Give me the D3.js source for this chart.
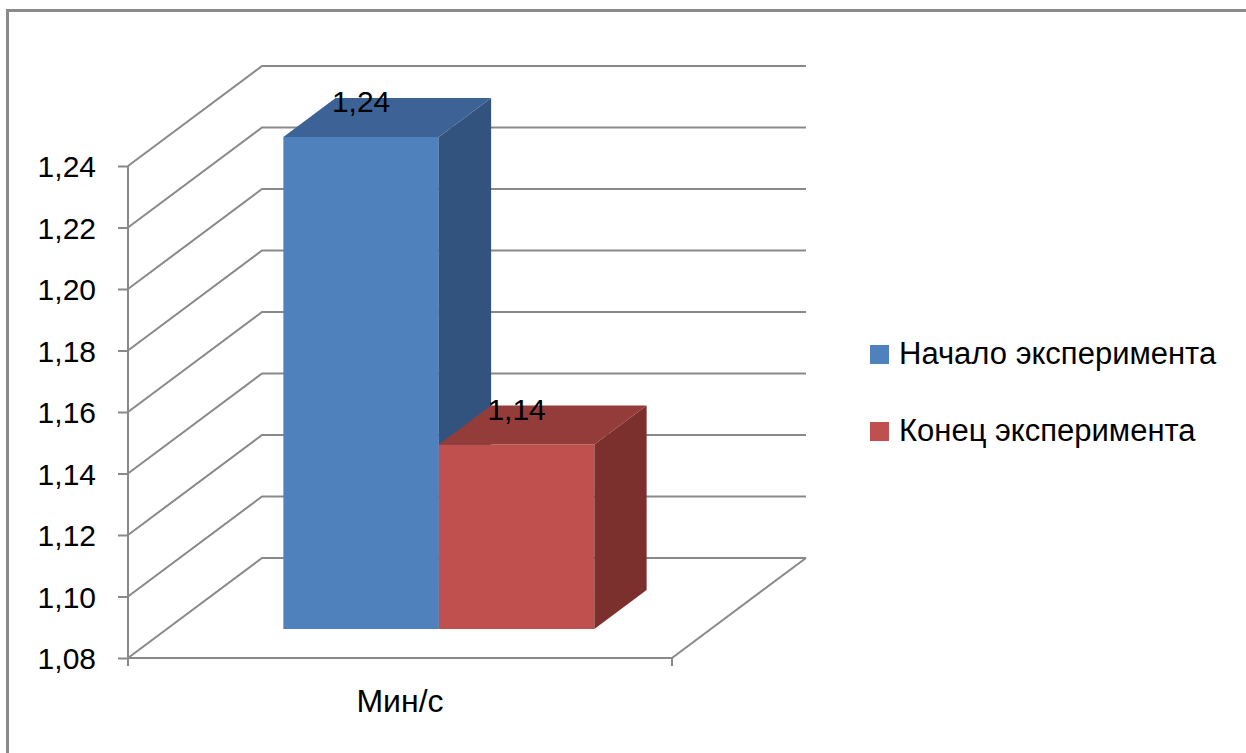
<!DOCTYPE html>
<html>
<head>
<meta charset="utf-8">
<script src="https://cdn.jsdelivr.net/npm/d3@7"></script>
<style>
  html, body { margin: 0; padding: 0; background: #fff; }
  svg { display: block; }
  text { font-family: "Liberation Sans", Arial, sans-serif; fill: #000; }
</style>
</head>
<body>
<svg id="chart" width="1246" height="753"></svg>
<script>
// Chart data
const categories = ['Мин/с'];
const seriesNames = ['Начало эксперимента', 'Конец эксперимента'];
const seriesValues = [1.24, 1.14];
const valueLabels = ['1,24', '1,14'];
const yTicks = [1.08, 1.10, 1.12, 1.14, 1.16, 1.18, 1.20, 1.22, 1.24];

// Face colours per series: front, top, side
const palette = [
  { front: '#4F81BD', top: '#3C6296', side: '#32537E' },
  { front: '#C0504D', top: '#943C3A', side: '#7C302E' }
];

const svg = d3.select('#chart');
const W = 1246, H = 753;
const FONT = 30;

// Oblique projection: depth d in [0,1] shifts right and up
const DX = 134, DY = 100;
const front = { left: 128, right: 672, bottom: 658, top: 166 };

const y = d3.scaleLinear().domain([yTicks[0], yTicks[yTicks.length - 1]]).range([front.bottom, front.top]);
const x = d3.scaleBand().domain(categories).range([front.left, front.right]).paddingInner(0).paddingOuter(0.3746);
const xs = d3.scaleBand().domain(seriesNames).range([0, x.bandwidth()]).padding(0);
const proj = (px, v, d) => [px + DX * d, y(v) - DY * d];

const fmt = v => d3.format('.2f')(v).replace('.', ',');
const gridColor = '#898989';

// Outer chart border
svg.append('rect')
  .attr('x', 7.5).attr('y', 10.5)
  .attr('width', W + 20).attr('height', H + 20)
  .attr('fill', 'none').attr('stroke', '#8a8a8a').attr('stroke-width', 3);

const grid = svg.append('g').attr('fill', 'none').attr('stroke', gridColor).attr('stroke-width', 2);

// Side wall diagonals and back wall gridlines
yTicks.forEach(t => {
  const a = proj(front.left, t, 0);
  const b = proj(front.left, t, 1);
  const c = proj(front.right, t, 1);
  grid.append('path').attr('d', d3.line()([a, b, c]));
});

// Floor right edge
grid.append('path').attr('d', d3.line()([proj(front.right, yTicks[0], 0), proj(front.right, yTicks[0], 1)]));

// Value axis
const yAxis = d3.axisLeft(y).tickValues(yTicks).tickFormat(fmt).tickSize(10).tickPadding(22);
const gy = svg.append('g').attr('transform', `translate(${front.left},0)`).call(yAxis);
gy.select('.domain').remove();
gy.selectAll('.tick line').attr('stroke', gridColor).attr('stroke-width', 2);
gy.selectAll('.tick text').attr('font-size', FONT).attr('dy', '0.36em')
  .attr('font-family', '"Liberation Sans", Arial, sans-serif').attr('fill', '#000');
svg.append('line')
  .attr('x1', front.left).attr('x2', front.left)
  .attr('y1', front.top).attr('y2', front.bottom + 8)
  .attr('stroke', gridColor).attr('stroke-width', 2);

// Category axis
svg.append('line')
  .attr('x1', front.left).attr('x2', front.right)
  .attr('y1', front.bottom).attr('y2', front.bottom)
  .attr('stroke', gridColor).attr('stroke-width', 2);
[front.left, front.right].forEach(px => {
  svg.append('line')
    .attr('x1', px).attr('x2', px)
    .attr('y1', front.bottom).attr('y2', front.bottom + 8)
    .attr('stroke', gridColor).attr('stroke-width', 2);
});
svg.selectAll('.cat-label').data(categories).enter().append('text')
  .attr('class', 'cat-label')
  .attr('x', d => x(d) + x.bandwidth() / 2)
  .attr('y', 712)
  .attr('text-anchor', 'middle')
  .attr('font-size', 32)
  .text(d => d);

// 3D columns
const d0 = 0.29, d1 = 0.68;
const base = yTicks[0];
const bars = svg.append('g');
seriesNames.forEach((s, i) => {
  const v = seriesValues[i];
  const xl = x(categories[0]) + xs(s);
  const xr = xl + xs.bandwidth();
  const col = palette[i];
  // front face
  bars.append('path').attr('fill', col.front)
    .attr('d', d3.line()([proj(xl, base, d0), proj(xr, base, d0), proj(xr, v, d0), proj(xl, v, d0)]) + 'Z');
  // side face
  bars.append('path').attr('fill', col.side)
    .attr('d', d3.line()([proj(xr, base, d0), proj(xr, base, d1), proj(xr, v, d1), proj(xr, v, d0)]) + 'Z');
  // top face
  bars.append('path').attr('fill', col.top)
    .attr('d', d3.line()([proj(xl, v, d0), proj(xr, v, d0), proj(xr, v, d1), proj(xl, v, d1)]) + 'Z');
});

// Value labels
seriesNames.forEach((s, i) => {
  const v = seriesValues[i];
  const cx = x(categories[0]) + xs(s) + xs.bandwidth() / 2;
  const p = proj(cx, v, d0);
  const pb = proj(cx, v, d1);
  svg.append('text')
    .attr('x', p[0]).attr('y', pb[1] + 14)
    .attr('text-anchor', 'middle')
    .attr('font-size', FONT)
    .text(valueLabels[i]);
});

// Legend
const legend = svg.append('g').attr('transform', 'translate(870,345)');
seriesNames.forEach((s, i) => {
  const g = legend.append('g').attr('transform', `translate(0,${i * 77})`);
  g.append('rect').attr('width', 19).attr('height', 19).attr('fill', palette[i].front);
  g.append('text').attr('x', 29).attr('y', 19).attr('font-size', 31).text(s);
});
</script>
</body>
</html>
